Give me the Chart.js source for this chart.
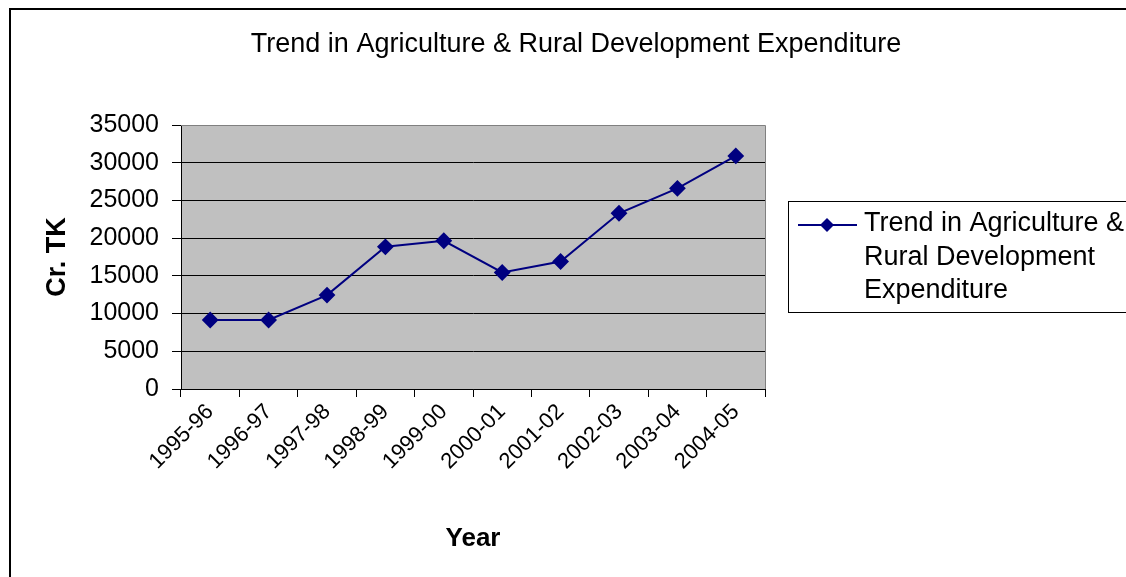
<!DOCTYPE html>
<html>
<head>
<meta charset="utf-8">
<title>Trend in Agriculture & Rural Development Expenditure</title>
<script src="https://cdn.jsdelivr.net/npm/chart.js@4.4.1/dist/chart.umd.min.js"></script>
<style>
  html, body { margin: 0; padding: 0; background: #fff; }
  #wrap { position: relative; width: 1126px; height: 577px; }
</style>
</head>
<body>
<div id="wrap"><canvas id="trendChart" width="1126" height="577"></canvas></div>
<script>
// ─── Data ─────────────────────────────────────────────────────────
const years = ['1995-96', '1996-97', '1997-98', '1998-99', '1999-00',
               '2000-01', '2001-02', '2002-03', '2003-04', '2004-05'];
const expenditure = [9150, 9150, 12450, 18850, 19650, 15450, 16900, 23300, 26600, 30900];
const yTicks = [0, 5000, 10000, 15000, 20000, 25000, 30000, 35000];

const seriesName = 'Trend in Agriculture & Rural Development Expenditure';
const chartTitle = 'Trend in Agriculture & Rural Development Expenditure';
const legendLines = ['Trend in Agriculture &', 'Rural Development', 'Expenditure'];

const FONT = "'Liberation Sans', Arial, sans-serif";
const NAVY = '#000080';

// ─── Frame, plot background, title and legend ─────────────────────
const sheetPlugin = {
  id: 'sheet',
  beforeDraw(chart) {
    const { ctx, chartArea: a } = chart;
    ctx.save();
    ctx.fillStyle = '#fff';
    ctx.fillRect(0, 0, chart.width, chart.height);
    ctx.fillStyle = '#c0c0c0';
    ctx.fillRect(a.left, a.top, a.right - a.left, a.bottom - a.top);
    ctx.restore();
  },
  afterDraw(chart) {
    const { ctx, chartArea: a } = chart;
    ctx.save();
    // plot border (top + right)
    ctx.strokeStyle = '#808080';
    ctx.lineWidth = 1;
    ctx.beginPath();
    ctx.moveTo(a.left, a.top + 0.5);
    ctx.lineTo(a.right + 0.5, a.top + 0.5);
    ctx.lineTo(a.right + 0.5, a.bottom);
    ctx.stroke();

    // outer frame
    ctx.strokeStyle = '#000';
    ctx.lineWidth = 2;
    ctx.strokeRect(10, 9, 1130, 580);

    // title
    ctx.fillStyle = '#000';
    ctx.font = '27px ' + FONT;
    ctx.textAlign = 'center';
    ctx.textBaseline = 'alphabetic';
    ctx.fillText(chartTitle, 576, 52);

    // legend box
    const lx = 788, ly = 201;
    ctx.fillStyle = '#fff';
    ctx.fillRect(lx, ly, 360, 111);
    ctx.strokeStyle = '#000';
    ctx.lineWidth = 1;
    ctx.strokeRect(lx + 0.5, ly + 0.5, 360, 111);

    ctx.strokeStyle = NAVY;
    ctx.lineWidth = 2;
    ctx.beginPath();
    ctx.moveTo(798, 225);
    ctx.lineTo(857, 225);
    ctx.stroke();
    ctx.fillStyle = NAVY;
    ctx.beginPath();
    ctx.moveTo(827, 218);
    ctx.lineTo(834, 225);
    ctx.lineTo(827, 232);
    ctx.lineTo(820, 225);
    ctx.closePath();
    ctx.fill();

    ctx.fillStyle = '#000';
    ctx.font = '27px ' + FONT;
    ctx.textAlign = 'left';
    legendLines.forEach((line, i) => ctx.fillText(line, 864, 231 + i * 33.5));
    ctx.restore();
  }
};

new Chart(document.getElementById('trendChart'), {
  type: 'line',
  data: {
    labels: years,
    datasets: [{
      label: seriesName,
      data: expenditure,
      borderColor: NAVY,
      backgroundColor: NAVY,
      borderWidth: 2,
      pointStyle: 'rectRot',
      pointRadius: 7,
      pointHoverRadius: 7,
      pointBackgroundColor: NAVY,
      pointBorderColor: NAVY,
      tension: 0
    }]
  },
  options: {
    responsive: false,
    animation: false,
    layout: { padding: { left: 41, right: 361, top: 125, bottom: 23 } },
    plugins: {
      legend: { display: false },
      title: { display: false },
      tooltip: { enabled: false }
    },
    scales: {
      x: {
        offset: true,
        grid: {
          offset: true,
          drawOnChartArea: false,
          color: '#000',
          tickLength: 8,
          tickColor: '#000'
        },
        border: { display: true, color: '#000', width: 1 },
        ticks: {
          color: '#000',
          font: { family: FONT, size: 22 },
          maxRotation: 45,
          minRotation: 45,
          autoSkip: false,
          padding: 2
        },
        title: {
          display: true,
          text: 'Year',
          color: '#000',
          font: { family: FONT, size: 26, weight: 'bold' },
          padding: { top: 0, bottom: 0 }
        },
        afterFit(scale) { scale.height = 165; }
      },
      y: {
        min: 0,
        max: 35000,
        afterBuildTicks(scale) { scale.ticks = yTicks.map(v => ({ value: v })); },
        grid: {
          color: ctx => (ctx.tick && ctx.tick.value === 35000 ? '#808080' : '#000'),
          tickColor: '#000',
          tickLength: 9,
          lineWidth: 1
        },
        border: { display: true, color: '#000', width: 1 },
        ticks: {
          color: '#000',
          font: { family: FONT, size: 25 },
          padding: 13,
          callback: v => String(v)
        },
        title: {
          display: true,
          text: 'Cr. TK',
          color: '#000',
          font: { family: FONT, size: 27, weight: 'bold' },
          padding: { top: 0, bottom: 0 }
        },
        afterFit(scale) { scale.width = 140; }
      }
    }
  },
  plugins: [sheetPlugin]
});
</script>
</body>
</html>
